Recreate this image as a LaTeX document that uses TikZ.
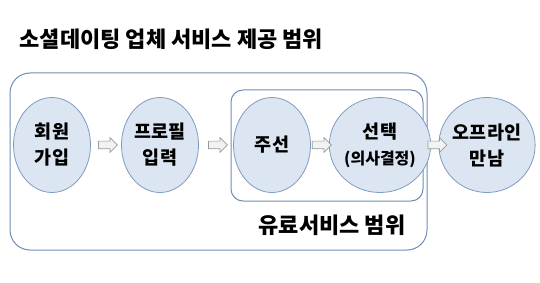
\documentclass[tikz,border=0pt]{standalone}
\usepackage{fontspec}
\setmainfont{Noto Sans CJK KR}
\usetikzlibrary{shapes.geometric, shapes.arrows, calc}
\definecolor{stagefill}{HTML}{DCE6F2}
\definecolor{stageline}{HTML}{7F9CC0}
\definecolor{scopeline}{HTML}{6F8DB0}
\definecolor{flowfill}{HTML}{F2F2F2}
\definecolor{flowline}{HTML}{999999}
\begin{document}
\begin{tikzpicture}[x=1pt, y=-1pt,
	stage/.style={ellipse, draw=stageline, fill=stagefill, line width=.8pt, minimum width=77pt, minimum height=95pt, inner sep=0pt, align=center, font=\fontsize{18.5}{26}\selectfont\bfseries},
	flow/.style={single arrow, draw=flowline, fill=flowfill, line width=.7pt, minimum height=19pt, inner sep=3.5pt, single arrow head extend=3.5pt},
	scopebox/.style={draw=scopeline, line width=1pt}]
			\useasboundingbox (0,0) rectangle (540,283);
			\node[anchor=west, font=\fontsize{22}{24}\selectfont\bfseries] (title) at (16,39) {소셜데이팅 업체 서비스 제공 범위};
			\draw[scopebox, rounded corners=20pt] (10,73) rectangle (427,250);
			\draw[scopebox, rounded corners=12pt] (231,90) rectangle (423,201);
			\node[font=\fontsize{22}{24}\selectfont\bfseries] (paid) at (332,225) {유료서비스 범위};
			\node[stage] (join) at (52,145) {회원\\가입};
			\node[stage] (profile) at (160,145) {프로필\\입력};
			\node[stage] (match) at (272,145) {주선};
			\node[stage] (choice) at (380,145) {선택\\{\fontsize{16}{26}\selectfont(의사결정)}};
			\node[stage] (meet) at (487,145) {오프라인\\만남};
			\node[flow] at ($(join.east)!.5!(profile.west)$) {};
			\node[flow] at ($(profile.east)!.5!(match.west)$) {};
			\node[flow] at ($(match.east)!.5!(choice.west)$) {};
			\node[flow] at ($(choice.east)!.6!(meet.west)$) {};
			\end{tikzpicture}
\end{document}
